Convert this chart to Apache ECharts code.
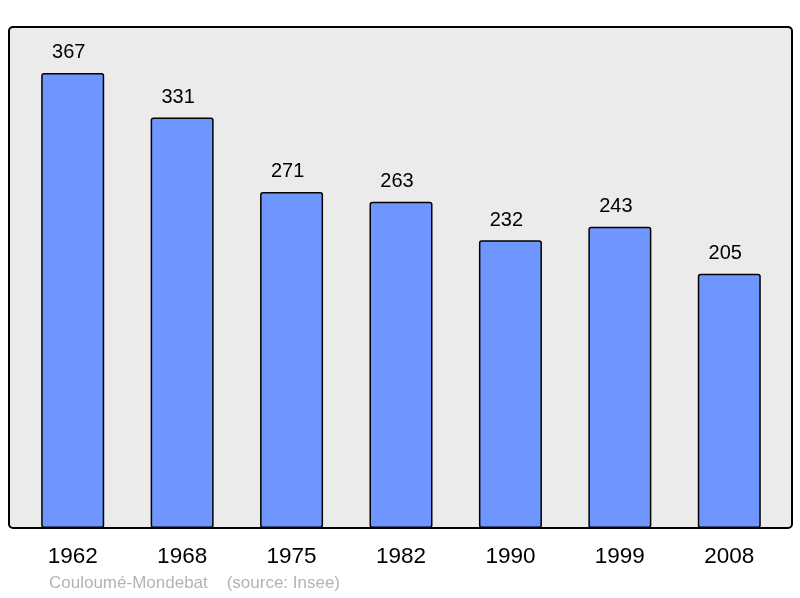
<!DOCTYPE html>
<html>
<head>
<meta charset="utf-8">
<script src="https://cdn.jsdelivr.net/npm/echarts@6/dist/echarts.min.js"></script>
<style>
html, body { margin: 0; padding: 0; background: #fff; }
#main { width: 800px; height: 598px; }
</style>
</head>
<body>
<div id="main"></div>
<script>
// population par année de recensement
var years = ["1962", "1968", "1975", "1982", "1990", "1999", "2008"];
var population = [367, 331, 271, 263, 232, 243, 205];

var chart = echarts.init(document.getElementById("main"));

var option = {
    animation: false,
    textStyle: { fontFamily: "Liberation Sans, Arial, sans-serif" },
    graphic: [
        {
            type: "rect",
            z: -10,
            shape: { x: 9, y: 27, width: 783, height: 501, r: 4 },
            style: { fill: "#ebebeb", stroke: "#000", lineWidth: 2 }
        },
        {
            type: "text",
            left: 49,
            top: 575,
            style: {
                text: "Couloumé-Mondebat    (source: Insee)",
                fill: "#b3b3b3",
                font: "17px Liberation Sans, Arial, sans-serif"
            }
        }
    ],
    grid: { left: 18, right: 16, top: 27, bottom: 70 },
    xAxis: {
        type: "category",
        data: years,
        axisLine: { show: false },
        axisTick: { show: false },
        axisLabel: { color: "#000", fontSize: 22.5, margin: 17 }
    },
    yAxis: {
        type: "value",
        min: 0,
        max: 404,
        show: false,
        splitLine: { show: false }
    },
    series: [{
        type: "bar",
        data: population,
        barWidth: 63,
        itemStyle: {
            color: "#6f96ff",
            borderColor: "#000",
            borderWidth: 1.5,
            borderRadius: 2
        },
        label: {
            show: true,
            position: "top",
            distance: 10,
            offset: [-4, 0],
            color: "#000",
            fontSize: 20
        }
    }]
};

chart.setOption(option);
</script>
</body>
</html>
